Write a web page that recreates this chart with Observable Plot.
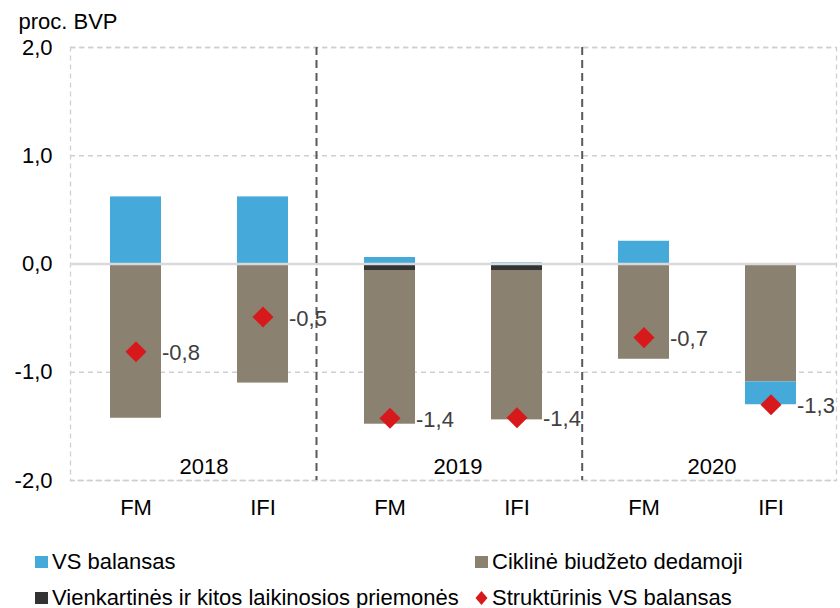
<!DOCTYPE html>
<html>
<head>
<meta charset="utf-8">
<script src="https://cdn.jsdelivr.net/npm/d3@7"></script>
<script src="https://cdn.jsdelivr.net/npm/@observablehq/plot@0.6"></script>
<style>
  body { margin: 0; background: #fff; }
  #wrap { position: relative; width: 840px; height: 608px; font-family: "Liberation Sans", Arial, sans-serif; }
  #wrap svg { position: absolute; left: 0; top: 0; }
  .lg { position: absolute; display: flex; align-items: center; font-size: 22px; color: #000; white-space: nowrap; line-height: 1; }
  .sw { display: inline-block; margin-right: 4px; }
</style>
</head>
<body>
<div id="wrap"></div>
<script>
// ---- data ----
const keys = ["2018 FM", "2018 IFI", "2019 FM", "2019 IFI", "2020 FM", "2020 IFI"];
const tickLabels = ["FM", "IFI", "FM", "IFI", "FM", "IFI"];
const years = ["2018", "2019", "2020"];
const vsBalansas = [0.62, 0.62, 0.06, 0.01, 0.21, -0.21];
const vienkartines = [0, 0, -0.06, -0.06, 0, 0];
const ciklines = [-1.425, -1.10, -1.42, -1.38, -0.88, -1.09];
const strukturinis = [-0.81, -0.49, -1.425, -1.42, -0.68, -1.30];
const strukturinisLabels = ["-0,8", "-0,5", "-1,4", "-1,4", "-0,7", "-1,3"];
const yTicks = [-2, -1, 0, 1, 2];
const seriesNames = ["VS balansas", "Ciklinė biudžeto dedamoji", "Vienkartinės ir kitos laikinosios priemonės", "Struktūrinis VS balansas"];
const seriesColors = ["#45a9d9", "#8b8170", "#333333", "#d7191c"];

// ---- tables ----
// stacking order: one-offs nearest zero, then cyclical, then VS balance
const stackSeries = [
  [seriesNames[2], vienkartines],
  [seriesNames[1], ciklines],
  [seriesNames[0], vsBalansas]
];
const barRows = [];
for (const [name, vals] of stackSeries) {
  keys.forEach((k, i) => barRows.push({ key: k, series: name, value: vals[i] }));
}
const structRows = keys.map((k, i) => ({ key: k, value: strukturinis[i], label: strukturinisLabels[i] }));

const fontCss = "font-family:'Liberation Sans',Arial,sans-serif;font-size:22px;color:#000;background:transparent;overflow:visible;";

const chart = Plot.plot({
  width: 840,
  height: 540,
  marginTop: 47,
  marginBottom: 60,
  marginLeft: 70,
  marginRight: 4,
  style: fontCss,
  x: {
    domain: keys,
    paddingInner: 0.6,
    paddingOuter: 0.3,
    tickFormat: d => tickLabels[keys.indexOf(d)],
    tickSize: 0,
    tickPadding: 19,
    label: null
  },
  y: {
    domain: [-2, 2],
    ticks: yTicks,
    tickFormat: d => d.toFixed(1).replace(".", ",").replace("−", "-"),
    tickSize: 0,
    tickPadding: 18,
    label: null
  },
  color: { domain: seriesNames, range: seriesColors },
  marks: [
    Plot.frame({ stroke: "#cfcfcf", strokeWidth: 1.3, strokeDasharray: "5,4" }),
    Plot.ruleY(yTicks.filter(d => d !== 0), { stroke: "#cfcfcf", strokeWidth: 1.3, strokeDasharray: "5,4" }),
    Plot.barY(barRows, Plot.stackY({ x: "key", y: "value", fill: "series" })),
    Plot.ruleY([0], { stroke: "#d9d9d9", strokeWidth: 2.5 }),
    Plot.ruleX([keys[2]], { dx: -73.5, stroke: "#595959", strokeWidth: 2, strokeDasharray: "8,5" }),
    Plot.ruleX([keys[4]], { dx: -61.8, stroke: "#595959", strokeWidth: 2, strokeDasharray: "8,5" }),
    Plot.dot(structRows, { x: "key", y: "value", symbol: "diamond2", r: 9.5, fill: seriesColors[3], stroke: null }),
    Plot.text(structRows, { x: "key", y: "value", text: "label", dx: 26, dy: 1.5, textAnchor: "start", fill: "#404040", fontSize: 22 }),
    Plot.text(years, { x: d => d + " IFI", text: d => d, frameAnchor: "bottom", dx: -59, dy: -14, lineAnchor: "middle", fill: "#000", fontSize: 22 }),
    Plot.text(["proc. BVP"], { text: d => d, frameAnchor: "top-left", dx: -52, dy: -26, lineAnchor: "middle", textAnchor: "start", fill: "#000", fontSize: 22 })
  ]
});

const wrap = document.getElementById("wrap");
wrap.appendChild(chart);

// ---- legend ----
const legendItems = [
  { name: seriesNames[0], color: seriesColors[0], shape: "square", left: 35, top: 562 },
  { name: seriesNames[1], color: seriesColors[1], shape: "square", left: 475, top: 562 },
  { name: seriesNames[2], color: seriesColors[2], shape: "square", left: 35, top: 597.5 },
  { name: seriesNames[3], color: seriesColors[3], shape: "diamond", left: 475, top: 597.5 }
];
for (const it of legendItems) {
  const d = document.createElement("div");
  d.className = "lg";
  d.style.left = it.left + "px";
  d.style.top = (it.top - 12) + "px";
  d.style.height = "24px";
  const sw = it.shape === "square"
    ? `<svg class="sw" width="13" height="12" style="position:static"><rect width="13" height="12" fill="${it.color}"/></svg>`
    : `<svg class="sw" width="13" height="14" style="position:static"><path d="M6.5,0L12.5,7L6.5,14L0.5,7Z" fill="${it.color}"/></svg>`;
  d.innerHTML = sw + `<span>${it.name}</span>`;
  wrap.appendChild(d);
}
</script>
</body>
</html>
